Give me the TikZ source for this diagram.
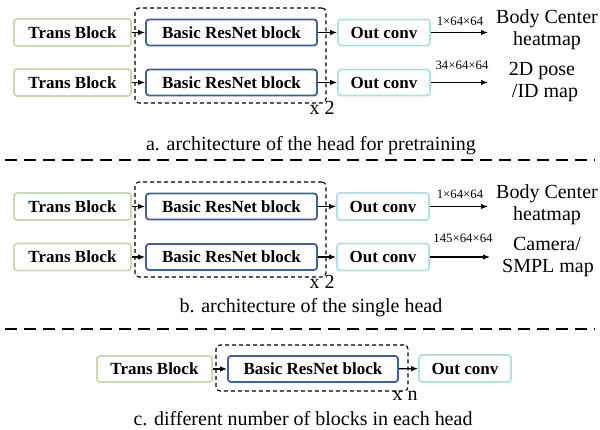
\documentclass[tikz,border=0pt]{standalone}
\usepackage{fontspec}
\setmainfont{Liberation Serif}
\usetikzlibrary{arrows.meta}
\definecolor{tbgreen}{HTML}{C5DBB3}
\definecolor{rnblue}{HTML}{3F5F9F}
\definecolor{occyan}{HTML}{B5DEE7}
\tikzset{
  box/.style={draw, line width=1.8pt, rounded corners=3pt, fill=white, inner sep=0pt,
    minimum height=26pt, font=\fontsize{17}{20}\selectfont\bfseries},
  tbbox/.style={box, draw=tbgreen, minimum width=117pt},
  rnbox/.style={box, draw=rnblue, minimum width=171pt},
  ocbox/.style={box, draw=occyan, minimum width=92pt},
  dashbox/.style={draw, line width=1.1pt, dash pattern=on 4pt off 3pt, rounded corners=4pt, inner sep=0pt},
  arr/.style={line width=1.2pt, -{Latex[length=7pt,width=5.5pt]}},
  lab/.style={anchor=base, inner sep=0pt, font=\fontsize{20}{22}\selectfont},
  dimlab/.style={anchor=base, inner sep=0pt, font=\fontsize{12.8}{14}\selectfont},
  sepline/.style={line width=2.8pt, dash pattern=on 12pt off 7pt}
}
\begin{document}
\begin{tikzpicture}[x=1pt,y=-1pt]
\useasboundingbox[fill=white] (0,0) rectangle (600,430);
% ---------- section a ----------
\node[dashbox, minimum width=191pt, minimum height=95pt] (da) at (230.5,55.5) {};
\node[tbbox, minimum height=27pt] (tba1) at (72.5,32.5) {Trans Block};
\node[tbbox, minimum height=27pt] (tba2) at (72.5,82.5) {Trans Block};
\node[rnbox] (rna1) at (231.5,32.5) {Basic ResNet block};
\node[rnbox] (rna2) at (231.5,82.5) {Basic ResNet block};
\node[ocbox] (oca1) at (384,32.5) {Out conv};
\node[ocbox] (oca2) at (384,82.5) {Out conv};
\node[lab] (xa) at (322,115) {x 2};
\coordinate (ea1) at (488,32.5);
\coordinate (ea2) at (488,82.5);
\draw[arr] (tba1) -- (rna1);
\draw[arr] (tba2) -- (rna2);
\draw[arr] (rna1) -- (oca1);
\draw[arr] (rna2) -- (oca2);
\draw[arr] (oca1) -- (ea1);
\draw[arr] (oca2) -- (ea2);
\node[dimlab] (dima1) at (460,26) {1×64×64};
\node[dimlab] (dima2) at (462,70) {34×64×64};
\node[lab] (ta1) at (547,24) {Body Center};
\node[lab] (ta2) at (547,46) {heatmap};
\node[lab] (ta3) at (542,76) {2D pose};
\node[lab] (ta4) at (545,98) {/ID map};
\node[lab] (capa) at (311,151) {a. architecture of the head for pretraining};
\draw[sepline] (5,160) -- (595,160);
% ---------- section b ----------
\node[dashbox, minimum width=191pt, minimum height=95pt] (db) at (230.5,229.5) {};
\node[tbbox, minimum height=27pt] (tbb1) at (72.5,206.5) {Trans Block};
\node[tbbox, minimum height=27pt] (tbb2) at (72.5,257) {Trans Block};
\node[rnbox] (rnb1) at (231.5,206.5) {Basic ResNet block};
\node[rnbox] (rnb2) at (231.5,257) {Basic ResNet block};
\node[ocbox, minimum height=27pt] (ocb1) at (383,206.5) {Out conv};
\node[ocbox, minimum height=27pt] (ocb2) at (383,257) {Out conv};
\node[lab] (xb) at (322,289) {x 2};
\coordinate (eb1) at (488,206.5);
\coordinate (eb2) at (490,257);
\draw[arr] (tbb1) -- (rnb1);
\draw[arr] (tbb2) -- (rnb2);
\draw[arr] (rnb1) -- (ocb1);
\draw[arr] (rnb2) -- (ocb2);
\draw[arr] (ocb1) -- (eb1);
\draw[arr] (ocb2) -- (eb2);
\node[dimlab] (dimb1) at (460,199) {1×64×64};
\node[dimlab] (dimb2) at (463,243) {145×64×64};
\node[lab] (tb1) at (547,198.5) {Body Center};
\node[lab] (tb2) at (547,221) {heatmap};
\node[lab] (tb3) at (547,251) {Camera/};
\node[lab] (tb4) at (548,273) {SMPL map};
\node[lab] (capb) at (311,313) {b. architecture of the single head};
\draw[sepline] (5,329) -- (595,329);
% ---------- section c ----------
\node[dashbox, minimum width=192pt, minimum height=46pt] (dc) at (312,368) {};
\node[tbbox, minimum width=115pt] (tbc) at (154.5,369) {Trans Block};
\node[rnbox, minimum width=170pt] (rnc) at (313,369) {Basic ResNet block};
\node[ocbox, minimum height=27pt] (occ) at (465,368.5) {Out conv};
\node[lab] (xc) at (405,400) {x n};
\draw[arr] (tbc) -- (rnc);
\draw[arr] (rnc) -- (occ);
\node[lab] (capc) at (303,425) {c. different number of blocks in each head};
\end{tikzpicture}
\end{document}
